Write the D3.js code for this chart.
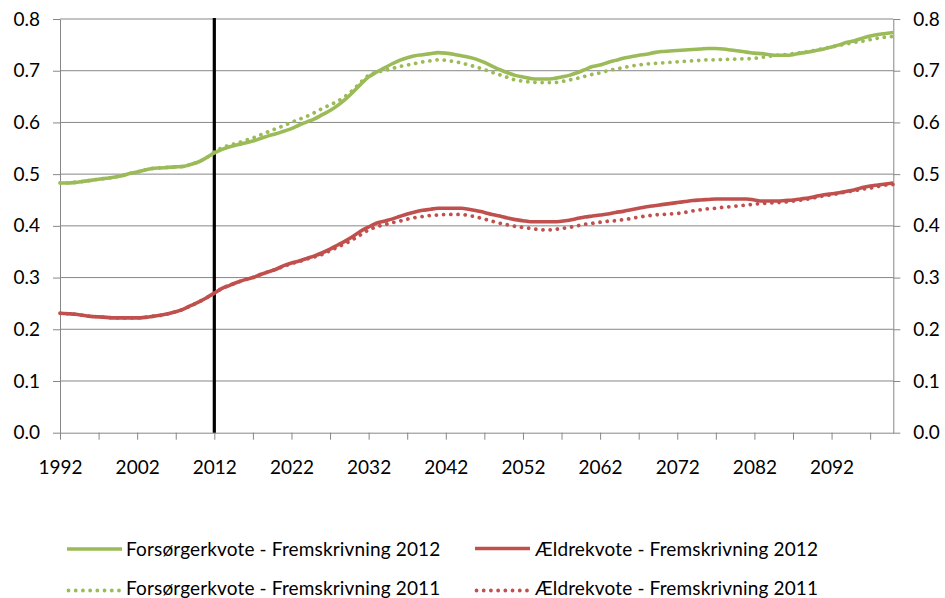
<!DOCTYPE html>
<html>
<head>
<meta charset="utf-8">
<script src="https://cdn.jsdelivr.net/npm/d3@7"></script>
<style>
  html, body { margin: 0; padding: 0; background: #fff; }
  svg { display: block; font-family: Lato, "Open Sans", sans-serif; }
</style>
</head>
<body>
<svg id="chart" width="945" height="598"></svg>
<script>
// Years 1992-2100, one value per year
const years = d3.range(1992, 2101);

// Forsørgerkvote – Fremskrivning 2012
const forsorger2012 = [
  0.483, 0.483, 0.484, 0.486, 0.488, 0.490, 0.492, 0.494, 0.497, 0.501,
  0.504, 0.508, 0.511, 0.512, 0.513, 0.514, 0.515, 0.519, 0.524, 0.532,
  0.541, 0.548, 0.553, 0.557, 0.560, 0.564, 0.569, 0.574, 0.578, 0.583,
  0.588, 0.595, 0.601, 0.607, 0.615, 0.623, 0.633, 0.645, 0.659, 0.674,
  0.688, 0.697, 0.705, 0.713, 0.720, 0.725, 0.729, 0.731, 0.733, 0.735,
  0.734, 0.732, 0.729, 0.726, 0.722, 0.716, 0.709, 0.702, 0.696, 0.691,
  0.688, 0.685, 0.684, 0.684, 0.685, 0.688, 0.691, 0.696, 0.702, 0.708,
  0.711, 0.716, 0.720, 0.724, 0.727, 0.730, 0.732, 0.735, 0.737, 0.738,
  0.739, 0.740, 0.741, 0.742, 0.743, 0.743, 0.742, 0.740, 0.738, 0.736,
  0.734, 0.733, 0.731, 0.730, 0.730, 0.731, 0.734, 0.736, 0.739, 0.742,
  0.746, 0.750, 0.755, 0.758, 0.763, 0.767, 0.770, 0.772, 0.774
];

// Forsørgerkvote – Fremskrivning 2011
const forsorger2011 = [
  0.483, 0.483, 0.484, 0.486, 0.488, 0.490, 0.492, 0.494, 0.497, 0.501,
  0.504, 0.508, 0.511, 0.512, 0.513, 0.514, 0.515, 0.519, 0.524, 0.532,
  0.543, 0.551, 0.556, 0.560, 0.565, 0.570, 0.576, 0.582, 0.588, 0.594,
  0.600, 0.606, 0.612, 0.619, 0.627, 0.634, 0.641, 0.651, 0.663, 0.678,
  0.691, 0.697, 0.700, 0.704, 0.708, 0.711, 0.714, 0.717, 0.719, 0.721,
  0.720, 0.718, 0.715, 0.711, 0.707, 0.702, 0.697, 0.692, 0.687, 0.682,
  0.680, 0.678, 0.677, 0.677, 0.677, 0.679, 0.682, 0.685, 0.689, 0.693,
  0.696, 0.700, 0.703, 0.706, 0.709, 0.711, 0.713, 0.714, 0.715, 0.716,
  0.717, 0.718, 0.719, 0.720, 0.721, 0.721, 0.722, 0.722, 0.723, 0.723,
  0.724, 0.726, 0.728, 0.730, 0.731, 0.733, 0.735, 0.737, 0.740, 0.743,
  0.746, 0.749, 0.752, 0.755, 0.757, 0.760, 0.763, 0.765, 0.766
];

// Ældrekvote – Fremskrivning 2012
const aeldre2012 = [
  0.231, 0.230, 0.229, 0.227, 0.225, 0.224, 0.223, 0.222, 0.222, 0.222,
  0.222, 0.223, 0.225, 0.227, 0.230, 0.234, 0.239, 0.246, 0.253, 0.261,
  0.270, 0.279, 0.285, 0.291, 0.296, 0.300, 0.306, 0.311, 0.316, 0.323,
  0.328, 0.332, 0.337, 0.342, 0.348, 0.355, 0.363, 0.371, 0.380, 0.390,
  0.398, 0.405, 0.409, 0.413, 0.418, 0.423, 0.427, 0.430, 0.432, 0.434,
  0.434, 0.434, 0.434, 0.432, 0.429, 0.426, 0.422, 0.419, 0.415, 0.412,
  0.410, 0.408, 0.408, 0.408, 0.408, 0.409, 0.411, 0.414, 0.417, 0.419,
  0.421, 0.423, 0.426, 0.428, 0.431, 0.434, 0.437, 0.439, 0.441, 0.443,
  0.445, 0.447, 0.449, 0.450, 0.451, 0.452, 0.452, 0.452, 0.452, 0.452,
  0.450, 0.448, 0.448, 0.448, 0.449, 0.450, 0.452, 0.454, 0.457, 0.460,
  0.462, 0.464, 0.467, 0.470, 0.474, 0.477, 0.479, 0.481, 0.483
];

// Ældrekvote – Fremskrivning 2011
const aeldre2011 = [
  0.231, 0.230, 0.229, 0.227, 0.225, 0.224, 0.223, 0.222, 0.222, 0.222,
  0.222, 0.223, 0.225, 0.227, 0.230, 0.234, 0.239, 0.246, 0.253, 0.261,
  0.270, 0.279, 0.285, 0.291, 0.296, 0.300, 0.306, 0.311, 0.316, 0.322,
  0.327, 0.331, 0.336, 0.340, 0.345, 0.352, 0.359, 0.366, 0.374, 0.383,
  0.392, 0.398, 0.402, 0.406, 0.409, 0.413, 0.416, 0.418, 0.420, 0.421,
  0.422, 0.422, 0.422, 0.420, 0.417, 0.413, 0.409, 0.405, 0.402, 0.399,
  0.397, 0.395, 0.393, 0.392, 0.393, 0.395, 0.397, 0.400, 0.403, 0.405,
  0.407, 0.409, 0.410, 0.412, 0.414, 0.417, 0.419, 0.421, 0.422, 0.423,
  0.424, 0.426, 0.429, 0.431, 0.433, 0.434, 0.436, 0.437, 0.439, 0.440,
  0.442, 0.443, 0.444, 0.445, 0.446, 0.448, 0.450, 0.452, 0.455, 0.458,
  0.460, 0.463, 0.466, 0.468, 0.471, 0.473, 0.476, 0.479, 0.480
];

const yTicks = [0, 0.1, 0.2, 0.3, 0.4, 0.5, 0.6, 0.7, 0.8];
const xTickYears = d3.range(1992, 2100, 5);        // tick marks every 5 years
const xLabelYears = d3.range(1992, 2100, 10);      // labels every 10 years
const markerYear = 2012;

const seriesNames = [
  "Forsørgerkvote - Fremskrivning 2012",
  "Ældrekvote - Fremskrivning 2012",
  "Forsørgerkvote - Fremskrivning 2011",
  "Ældrekvote - Fremskrivning 2011"
];

const GREEN = "#9bbb59", RED = "#c0504d", GRID = "#878787";
const DOTS = "0.01 7.2";

const series = [
  { name: seriesNames[0], values: forsorger2012, color: GREEN, dotted: false },
  { name: seriesNames[1], values: aeldre2012,    color: RED,   dotted: false },
  { name: seriesNames[2], values: forsorger2011, color: GREEN, dotted: true },
  { name: seriesNames[3], values: aeldre2011,    color: RED,   dotted: true }
];

const svg = d3.select("#chart");
const plotLeft = 60, plotRight = 893.3, plotTop = 19, plotBottom = 432.7;

const x = d3.scaleLinear().domain([1992, 2100]).range([plotLeft, plotRight]);
const y = d3.scaleLinear().domain([0, 0.8]).range([plotBottom, plotTop]);

// horizontal gridlines
svg.append("g")
  .selectAll("line")
  .data(yTicks.slice(1))
  .join("line")
  .attr("x1", plotLeft).attr("x2", plotRight)
  .attr("y1", d => y(d)).attr("y2", d => y(d))
  .attr("stroke", GRID).attr("stroke-width", 1);

function styleAxis(g) {
  g.select(".domain").attr("stroke", GRID).attr("stroke-width", 1);
  g.selectAll(".tick line").attr("stroke", GRID).attr("stroke-width", 1);
  g.selectAll("text").attr("fill", "#000").style("font-size", "19px")
    .style("font-family", "Lato, 'Open Sans', sans-serif");
}

// left and right value axes
svg.append("g")
  .attr("transform", `translate(${plotLeft},0)`)
  .call(d3.axisLeft(y).tickValues(yTicks).tickFormat(d3.format(".1f"))
    .tickSize(7).tickSizeOuter(0).tickPadding(13))
  .call(styleAxis);

svg.append("g")
  .attr("transform", `translate(${plotRight},0)`)
  .call(d3.axisRight(y).tickValues(yTicks).tickFormat(d3.format(".1f"))
    .tickSize(7).tickSizeOuter(0).tickPadding(13))
  .call(styleAxis);

// year axis
svg.append("g")
  .attr("transform", `translate(0,${plotBottom})`)
  .call(d3.axisBottom(x).tickValues(xTickYears)
    .tickFormat(d => xLabelYears.includes(d) ? String(d) : "")
    .tickSize(7).tickSizeOuter(0).tickPadding(21))
  .call(styleAxis);

// vertical marker at the projection start year
svg.append("line")
  .attr("x1", x(markerYear)).attr("x2", x(markerYear))
  .attr("y1", plotTop - 1).attr("y2", plotBottom)
  .attr("stroke", "#000").attr("stroke-width", 3.2);

const line = d3.line()
  .x((d, i) => x(years[i]))
  .y(d => y(d))
  .curve(d3.curveMonotoneX);

// dotted (2011) series under the solid (2012) series
const order = [series[2], series[3], series[0], series[1]];
svg.append("g")
  .selectAll("path")
  .data(order)
  .join("path")
  .attr("d", d => line(d.values))
  .attr("fill", "none")
  .attr("stroke", d => d.color)
  .attr("stroke-width", d => d.dotted ? 3.8 : 3.6)
  .attr("stroke-linecap", d => d.dotted ? "round" : "butt")
  .attr("stroke-linejoin", "round")
  .attr("stroke-dasharray", d => d.dotted ? DOTS : null);

// legend, two columns by two rows
const legendItems = [
  { s: series[0], lx: 67,  tx: 126, ly: 549, ty: 549 },
  { s: series[1], lx: 475, tx: 535, ly: 548.5, ty: 549 },
  { s: series[2], lx: 67,  tx: 126, ly: 590.5, ty: 588 },
  { s: series[3], lx: 475, tx: 535, ly: 590.5, ty: 588 }
];

const lg = svg.append("g").selectAll("g").data(legendItems).join("g");
lg.append("line")
  .attr("x1", d => d.lx + (d.s.dotted ? 1.5 : 0))
  .attr("x2", d => d.lx + 55)
  .attr("y1", d => d.ly).attr("y2", d => d.ly)
  .attr("stroke", d => d.s.color)
  .attr("stroke-width", d => d.s.dotted ? 3.8 : 3.6)
  .attr("stroke-linecap", d => d.s.dotted ? "round" : "butt")
  .attr("stroke-dasharray", d => d.s.dotted ? DOTS : null);
lg.append("text")
  .attr("x", d => d.tx).attr("y", d => d.ty)
  .attr("dy", "0.35em")
  .attr("fill", "#000")
  .style("font-size", "19px")
  .style("letter-spacing", "0.15px")
  .text(d => d.s.name);
</script>
</body>
</html>
